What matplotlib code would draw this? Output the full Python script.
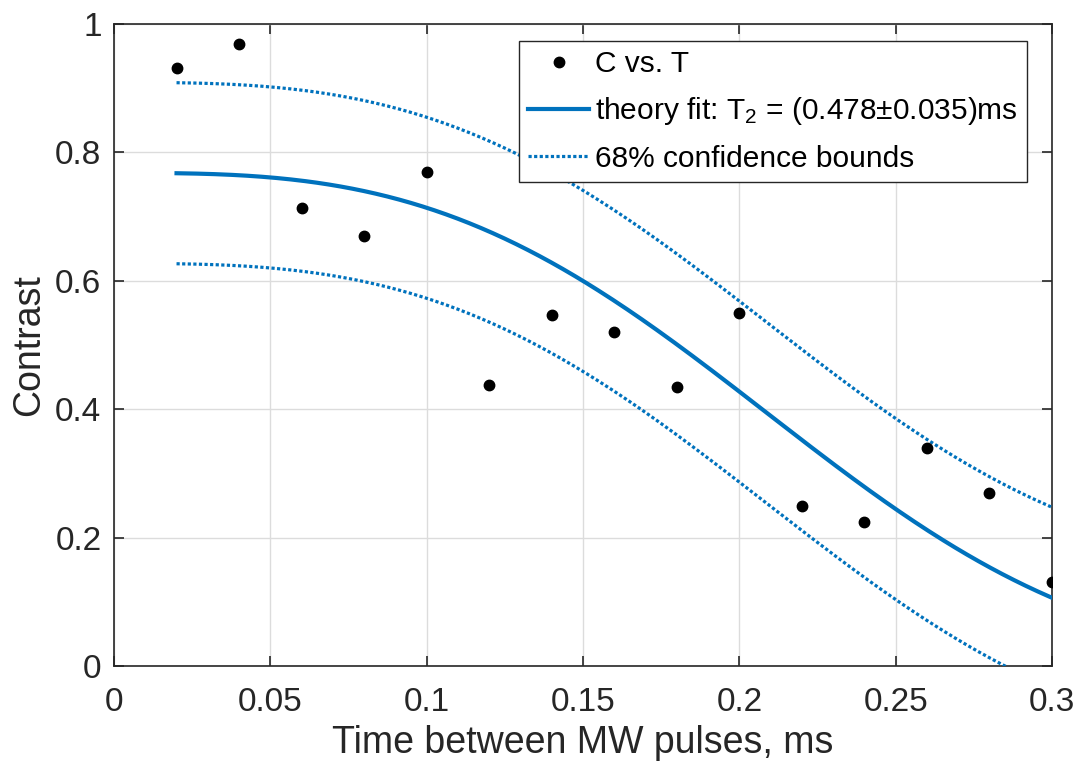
import numpy as np
import matplotlib
matplotlib.use("Agg")
import matplotlib.pyplot as plt

# Measured contrast vs. time between MW pulses (ms)
t_meas = [0.02, 0.04, 0.06, 0.08, 0.10, 0.12, 0.14, 0.16, 0.18, 0.20,
          0.22, 0.24, 0.26, 0.28, 0.30]
c_meas = [0.932, 0.969, 0.714, 0.670, 0.770, 0.437, 0.546, 0.521, 0.434, 0.550,
          0.250, 0.224, 0.339, 0.269, 0.131]

# Fit parameters: C(t) = A * exp(-(2t/T2)^3)
fit_amp = 0.768
fit_T2 = 0.478
fit_T2_err = 0.035
bound_halfwidth = 0.141

tick_x = [0, 0.05, 0.1, 0.15, 0.2, 0.25, 0.3]
tick_x_labels = ["0", "0.05", "0.1", "0.15", "0.2", "0.25", "0.3"]
tick_y = [0, 0.2, 0.4, 0.6, 0.8, 1.0]
tick_y_labels = ["0", "0.2", "0.4", "0.6", "0.8", "1"]

plt.rcParams["font.family"] = ["Liberation Sans", "DejaVu Sans"]
plt.rcParams["mathtext.fontset"] = "custom"
plt.rcParams["mathtext.rm"] = "Liberation Sans"
plt.rcParams["mathtext.it"] = "Liberation Sans"

text_col = "#262626"
blue = "#0072BD"

fig = plt.figure(figsize=(10.78, 7.64), dpi=100)
ax = fig.add_axes([114 / 1078, 98 / 764, 938 / 1078, 642 / 764])

t_fit = np.linspace(min(t_meas), max(t_meas), 300)
c_fit = fit_amp * np.exp(-(2 * t_fit / fit_T2) ** 3)

ax.plot(t_meas, c_meas, "o", color="black", markersize=7.5, linestyle="none",
        label="C vs. T", zorder=4)
ax.plot(t_fit, c_fit, "-", color=blue, linewidth=3.0,
        label=r"theory fit: T$_2$ = (%.3f±%.3f)ms" % (fit_T2, fit_T2_err), zorder=3)
ax.plot(t_fit, c_fit + bound_halfwidth, color=blue, linewidth=2.3,
        linestyle=(0, (1, 0.75)), label="68% confidence bounds", zorder=3)
ax.plot(t_fit, c_fit - bound_halfwidth, color=blue, linewidth=2.3,
        linestyle=(0, (1, 0.75)), zorder=3)

ax.set_xlim(0, 0.3)
ax.set_ylim(0, 1)
ax.set_xticks(tick_x)
ax.set_xticklabels(tick_x_labels)
ax.set_yticks(tick_y)
ax.set_yticklabels(tick_y_labels)

ax.grid(True, color="#dcdcdc", linewidth=1.0)
ax.set_axisbelow(True)
for s in ax.spines.values():
    s.set_color(text_col)
    s.set_linewidth(1.2)

ax.tick_params(direction="in", length=7, width=1.2, colors=text_col,
               labelsize=24, top=True, right=True)
ax.tick_params(axis="x", pad=15)
ax.tick_params(axis="y", pad=9)

ax.set_xlabel("Time between MW pulses, ms", fontsize=27, color=text_col, labelpad=5)
ax.set_ylabel("Contrast", fontsize=27, color=text_col, labelpad=6)

leg = ax.legend(loc="upper right", bbox_to_anchor=(1027 / 1078, 723 / 764),
                bbox_transform=fig.transFigure, fontsize=21.5, frameon=True,
                fancybox=False, edgecolor=text_col, framealpha=1.0,
                handlelength=2.05, handletextpad=0.2, borderpad=0.3,
                labelspacing=0.58, borderaxespad=0)
leg.get_frame().set_linewidth(1.0)
for txt in leg.get_texts():
    txt.set_color("black")

fig.savefig("out.png", dpi=100)
